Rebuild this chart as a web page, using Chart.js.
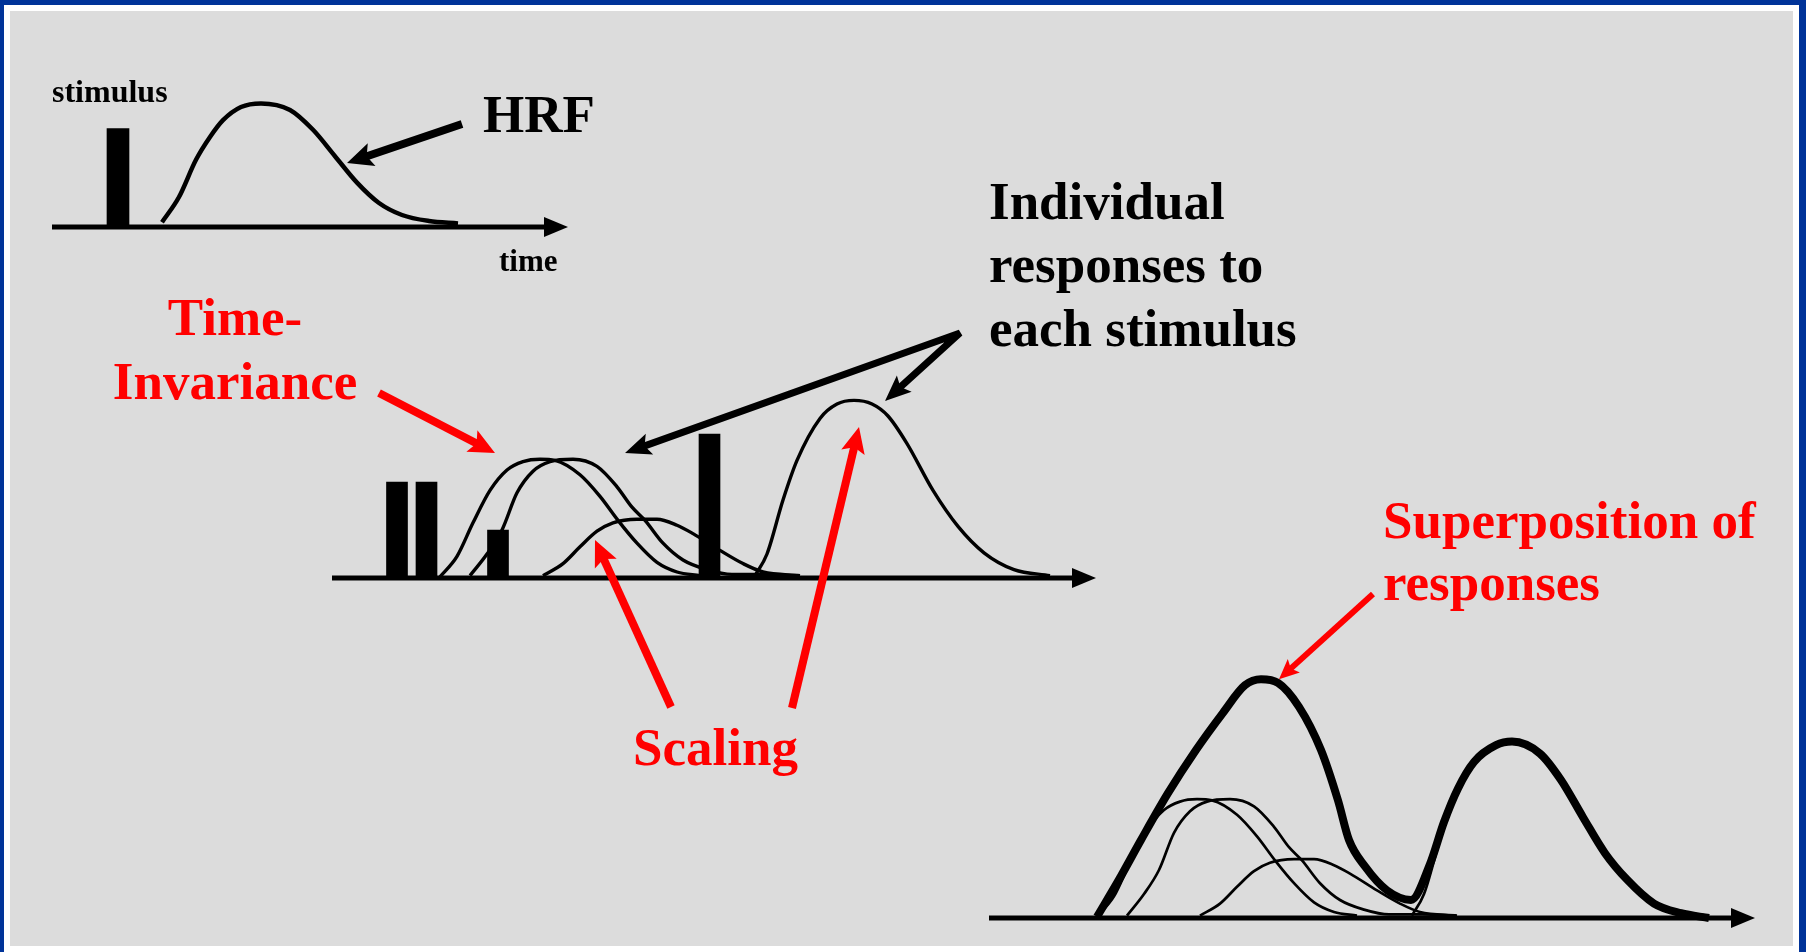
<!DOCTYPE html>
<html>
<head>
<meta charset="utf-8">
<title>HRF linearity</title>
<script src="https://cdn.jsdelivr.net/npm/chart.js@4.4.1/dist/chart.umd.min.js"></script>
<style>
  html, body { margin: 0; padding: 0; background: #ffffff; overflow: hidden; }
  canvas { display: block; }
</style>
</head>
<body>
<canvas id="chart" width="1806" height="952"></canvas>
<script>
// ---------------- DATA (time units, amplitude units) ----------------
// Panel A: single stimulus and the haemodynamic response function
const stimTimeA = [6.6];
const stimAmpA  = [0.82];
const hrfTime = [11.0, 12.7, 14.4, 15.8, 17.1, 18.9, 20.9, 23.8, 26.1, 28.3, 30.5, 32.7, 35.0, 37.7, 40.6];
const hrfAmp  = [0.04, 0.25, 0.56, 0.75, 0.89, 1.00, 1.03, 0.975, 0.81, 0.59, 0.37, 0.20, 0.10, 0.05, 0.03];

// Panel B: four stimuli and the individual responses
const stimTimeB = [6.5, 9.45, 16.6, 37.75];
const stimAmpB  = [0.80, 0.80, 0.40, 1.20];

const resp1Time = [10.8, 12.5, 14.1, 15.8, 17.5, 19.1, 20.8, 22.3, 24.8, 26.8, 28.6, 30.5, 32.5, 34.5, 36.8];
const resp1Amp  = [0.01, 0.18, 0.46, 0.73, 0.90, 0.97, 0.99, 0.98, 0.86, 0.68, 0.48, 0.29, 0.13, 0.05, 0.02];

const resp2Time = [13.8, 15.5, 17.0, 18.5, 20.1, 21.8, 24.1, 26.5, 28.5, 30.0, 31.3, 33.1, 35.1, 37.5, 40.0, 43.3, 46.7];
const resp2Amp  = [0.02, 0.20, 0.40, 0.71, 0.89, 0.97, 0.99, 0.93, 0.76, 0.59, 0.48, 0.29, 0.15, 0.07, 0.03, 0.03, 0.02];

const resp3Time = [21.1, 23.1, 24.8, 26.5, 28.1, 30.5, 32.5, 34.5, 36.1, 38.8, 41.1, 43.1, 46.8];
const resp3Amp  = [0.02, 0.12, 0.26, 0.39, 0.46, 0.49, 0.49, 0.44, 0.37, 0.23, 0.12, 0.05, 0.02];

const resp4Time = [42.3, 43.5, 45.1, 46.5, 48.8, 50.5, 52.2, 54.0, 55.6, 57.5, 60.1, 62.6, 65.2, 68.2, 71.8];
const resp4Amp  = [0.02, 0.20, 0.65, 0.98, 1.33, 1.45, 1.48, 1.45, 1.35, 1.12, 0.73, 0.43, 0.21, 0.07, 0.02];

// Panel C: superposition (sum) of the responses
const sumTime = [10.8, 13.0, 15.2, 17.9, 20.7, 23.4, 25.6, 27.2, 28.9, 31.0, 33.2, 34.9, 36.0, 37.6, 39.8, 42.2,
                 44.1, 45.5, 46.9, 48.5, 50.7, 52.3, 55.1, 57.2, 59.4, 61.6, 63.8, 66.5, 69.2, 72.0];
const sumAmp  = [0.01, 0.32, 0.65, 1.04, 1.40, 1.71, 1.94, 1.99, 1.96, 1.76, 1.40, 0.98, 0.65, 0.43, 0.23, 0.15,
                 0.45, 0.80, 1.08, 1.30, 1.44, 1.47, 1.37, 1.15, 0.84, 0.54, 0.32, 0.12, 0.04, 0.00];

// ---------------- LAYOUT ----------------
const W = 1806, H = 952;
const PX_PER_T = 10, PX_PER_A = 120;
const PANELS = {
  A: { ox: 52,  oy: 227, axisEnd: 51.6 },
  B: { ox: 332, oy: 578, axisEnd: 76.4 },
  C: { ox: 989, oy: 918, axisEnd: 76.6 }
};
const SERIF = '"Liberation Serif", "Times New Roman", serif';

function xs(p) { return { type: 'linear', display: false, offset: false, bounds: 'data',
  min: -p.ox / PX_PER_T, max: (W - p.ox) / PX_PER_T }; }
function ys(p) { return { type: 'linear', display: false, bounds: 'data',
  min: -(H - p.oy) / PX_PER_A, max: p.oy / PX_PER_A }; }
const pts = (ts, as) => ts.map((t, i) => ({ x: t, y: as[i] }));

function curve(ts, as, panel, width, order) {
  return { type: 'line', data: pts(ts, as), xAxisID: 'x' + panel, yAxisID: 'y' + panel,
    borderColor: '#000000', borderWidth: width, pointRadius: 0, fill: false,
    cubicInterpolationMode: 'monotone', borderCapStyle: 'butt', borderJoinStyle: 'round', order: order };
}
function bars(ts, as, panel, thickness) {
  return { type: 'bar', data: pts(ts, as), xAxisID: 'x' + panel, yAxisID: 'y' + panel,
    backgroundColor: '#000000', borderWidth: 0, barThickness: thickness, grouped: false, order: 5 };
}

// ---------------- ANNOTATIONS (panel units) ----------------
const arrows = [
  { panel: 'A', from: [41.0, 0.858], to: [29.5, 0.533], color: '#000000', lw: 8, hl: 26, hw: 12 },
  { panel: 'B', from: [4.7, 1.542], to: [16.3, 1.042], color: '#ff0000', lw: 8, hl: 26, hw: 12 },
  { panel: 'B', from: [33.9, -1.075], to: [26.3, 0.317], color: '#ff0000', lw: 8, hl: 26, hw: 12 },
  { panel: 'B', from: [46.0, -1.083], to: [52.7, 1.258], color: '#ff0000', lw: 8, hl: 26, hw: 12 },
  { panel: 'C', from: [38.4, 2.70], to: [29.0, 1.99], color: '#ff0000', lw: 6, hl: 20, hw: 9 }
];
// forked black arrow: one origin, two tips
const fork = { panel: 'B', from: [62.8, 2.042], tips: [[29.3, 1.042], [55.3, 1.475]], lw: 7, hl: 26, hw: 11 };

const texts = [
  { s: 'stimulus', x: 52, y: 102, size: 32, color: '#000000', align: 'left' },
  { s: 'HRF', x: 483, y: 132, size: 53, color: '#000000', align: 'left' },
  { s: 'time', x: 499, y: 271, size: 31, color: '#000000', align: 'left' },
  { s: 'Individual', x: 989, y: 219, size: 53, color: '#000000', align: 'left' },
  { s: 'responses to', x: 989, y: 282, size: 53, color: '#000000', align: 'left' },
  { s: 'each stimulus', x: 989, y: 346, size: 53, color: '#000000', align: 'left' },
  { s: 'Time-', x: 235, y: 335, size: 53, color: '#ff0000', align: 'center' },
  { s: 'Invariance', x: 235, y: 399, size: 53, color: '#ff0000', align: 'center' },
  { s: 'Scaling', x: 633, y: 765, size: 53, color: '#ff0000', align: 'left' },
  { s: 'Superposition of', x: 1383, y: 538, size: 53, color: '#ff0000', align: 'left' },
  { s: 'responses', x: 1383, y: 600, size: 53, color: '#ff0000', align: 'left' }
];

function toPx(chart, panel, pt) {
  return [chart.scales['x' + panel].getPixelForValue(pt[0]), chart.scales['y' + panel].getPixelForValue(pt[1])];
}
function head(ctx, x1, y1, x2, y2, hl, hw) {
  const a = Math.atan2(y2 - y1, x2 - x1);
  const bx = x2 - hl * Math.cos(a), by = y2 - hl * Math.sin(a);
  ctx.beginPath();
  ctx.moveTo(x2, y2);
  ctx.lineTo(bx + hw * Math.sin(a), by - hw * Math.cos(a));
  ctx.lineTo(x2 - hl * 0.8 * Math.cos(a), y2 - hl * 0.8 * Math.sin(a));
  ctx.lineTo(bx - hw * Math.sin(a), by + hw * Math.cos(a));
  ctx.closePath();
  ctx.fill();
  return [x2 - hl * 0.75 * Math.cos(a), y2 - hl * 0.75 * Math.sin(a)];
}
function arrowPx(ctx, x1, y1, x2, y2, color, lw, hl, hw) {
  ctx.strokeStyle = color; ctx.fillStyle = color; ctx.lineWidth = lw; ctx.lineCap = 'butt';
  const b = head(ctx, x1, y1, x2, y2, hl, hw);
  ctx.beginPath(); ctx.moveTo(x1, y1); ctx.lineTo(b[0], b[1]); ctx.stroke();
}

const framePlugin = {
  id: 'frame',
  beforeDraw(chart) {
    const c = chart.ctx;
    c.save();
    c.fillStyle = '#003399'; c.fillRect(0, 0, W, H);
    c.fillStyle = '#ffffff'; c.fillRect(4, 5, 1795, H - 5);
    c.fillStyle = '#dcdcdc'; c.fillRect(10, 11, 1783, 935);
    c.restore();
  },
  beforeDatasetsDraw(chart) {
    const c = chart.ctx;
    c.save();
    Object.keys(PANELS).forEach(k => {
      const p = PANELS[k];
      const x0 = chart.scales['x' + k].getPixelForValue(0);
      const x1 = chart.scales['x' + k].getPixelForValue(p.axisEnd);
      const y = chart.scales['y' + k].getPixelForValue(0);
      c.fillStyle = '#000000'; c.strokeStyle = '#000000'; c.lineWidth = 5; c.lineCap = 'butt';
      c.beginPath(); c.moveTo(x0, y); c.lineTo(x1 - 20, y); c.stroke();
      c.beginPath(); c.moveTo(x1, y); c.lineTo(x1 - 24, y - 10); c.lineTo(x1 - 24, y + 10); c.closePath(); c.fill();
    });
    c.restore();
  },
  afterDatasetsDraw(chart) {
    const c = chart.ctx;
    c.save();
    texts.forEach(t => {
      c.font = 'bold ' + t.size + 'px ' + SERIF;
      c.fillStyle = t.color; c.textAlign = t.align; c.textBaseline = 'alphabetic';
      c.fillText(t.s, t.x, t.y);
    });
    arrows.forEach(a => {
      const f = toPx(chart, a.panel, a.from), t = toPx(chart, a.panel, a.to);
      arrowPx(c, f[0], f[1], t[0], t[1], a.color, a.lw, a.hl, a.hw);
    });
    // forked arrow
    const o = toPx(chart, fork.panel, fork.from);
    const t1 = toPx(chart, fork.panel, fork.tips[0]), t2 = toPx(chart, fork.panel, fork.tips[1]);
    c.fillStyle = '#000000'; c.strokeStyle = '#000000';
    const b1 = head(c, o[0], o[1], t1[0], t1[1], fork.hl, fork.hw);
    const b2 = head(c, o[0], o[1], t2[0], t2[1], fork.hl, fork.hw);
    c.lineWidth = fork.lw; c.lineJoin = 'miter'; c.miterLimit = 3; c.lineCap = 'butt';
    c.beginPath(); c.moveTo(b1[0], b1[1]); c.lineTo(o[0], o[1]); c.lineTo(b2[0], b2[1]); c.stroke();
    c.restore();
  }
};

new Chart(document.getElementById('chart'), {
  type: 'scatter',
  data: {
    datasets: [
      curve(sumTime, sumAmp, 'C', 8, 0),
      curve(hrfTime, hrfAmp, 'A', 4.5, 1),
      bars(stimTimeA, stimAmpA, 'A', 22),
      curve(resp1Time, resp1Amp, 'B', 3.4, 2),
      curve(resp2Time, resp2Amp, 'B', 3.4, 2),
      curve(resp3Time, resp3Amp, 'B', 3.4, 2),
      curve(resp4Time, resp4Amp, 'B', 3.4, 2),
      bars(stimTimeB, stimAmpB, 'B', 21),
      curve(resp1Time, resp1Amp, 'C', 2.7, 3),
      curve(resp2Time, resp2Amp, 'C', 2.7, 3),
      curve(resp3Time, resp3Amp, 'C', 2.7, 3),
      curve(resp4Time, resp4Amp, 'C', 2.7, 3)
    ]
  },
  options: {
    responsive: false,
    animation: false,
    devicePixelRatio: 1,
    events: [],
    layout: { padding: 0 },
    plugins: { legend: { display: false }, tooltip: { enabled: false }, title: { display: false } },
    scales: {
      xA: xs(PANELS.A), yA: ys(PANELS.A),
      xB: xs(PANELS.B), yB: ys(PANELS.B),
      xC: xs(PANELS.C), yC: ys(PANELS.C)
    }
  },
  plugins: [framePlugin]
});
</script>
</body>
</html>
